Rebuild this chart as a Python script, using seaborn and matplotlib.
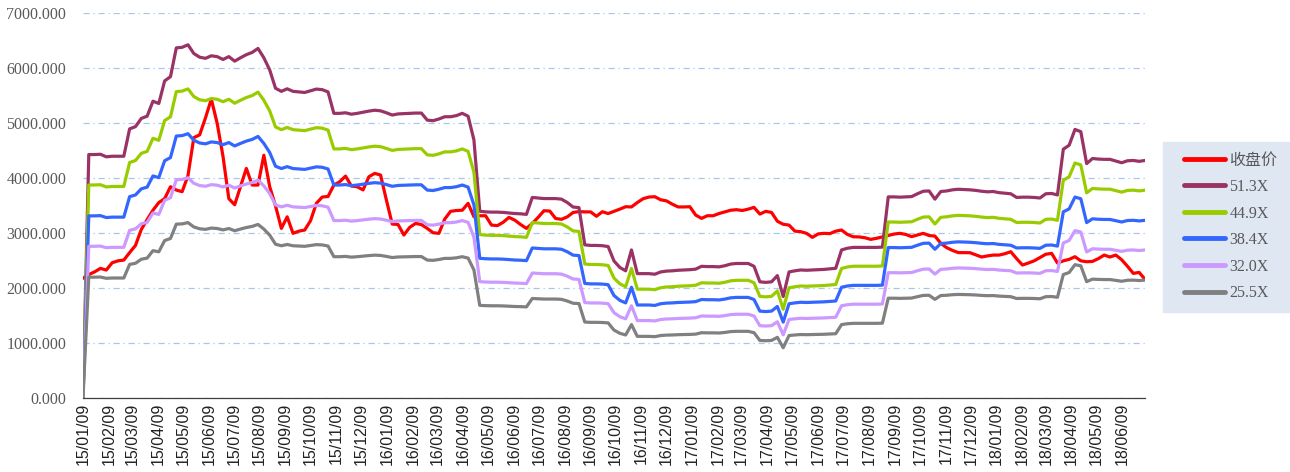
# PE band chart: weekly close vs. EPS x multiple bands, 2015-01 .. 2018-07.

import numpy as np
import pandas as pd
import matplotlib
matplotlib.use("Agg")
import matplotlib.pyplot as plt
import matplotlib.dates as mdates
from matplotlib.lines import Line2D
from matplotlib.legend_handler import HandlerLine2D
from matplotlib.ticker import FormatStrFormatter
import seaborn as sns

start_date = "2015-01-09"

# weekly close
close = [
    2182, 2250, 2300, 2363, 2333, 2465, 2500, 2514, 2650, 2780,
    3070, 3250, 3420, 3560, 3630, 3847, 3787, 3757, 4050, 4740,
    4790, 5100, 5440, 5000, 4400, 3630, 3520, 3850, 4180, 3878,
    3878, 4420, 3850, 3500, 3090, 3300, 3000, 3040, 3060, 3230,
    3545, 3660, 3670, 3878, 3938, 4041, 3860, 3847, 3790, 4029,
    4090, 4060, 3605, 3169, 3160, 2969, 3110, 3180, 3160, 3090,
    3011, 3000, 3260, 3400, 3415, 3420, 3545, 3302, 3320, 3320,
    3151, 3140, 3200, 3290, 3240, 3160, 3090, 3180, 3290, 3411,
    3405, 3270, 3255, 3300, 3380, 3395, 3390, 3390, 3310, 3393,
    3360, 3400, 3440, 3484, 3480, 3560, 3630, 3660, 3666, 3610,
    3590, 3530, 3480, 3480, 3484, 3333, 3272, 3320, 3320, 3360,
    3390, 3420, 3430, 3415, 3440, 3472, 3350, 3400, 3380, 3220,
    3165, 3150, 3040, 3030, 3000, 2927, 2990, 3000, 2995, 3040,
    3060, 2980, 2938, 2935, 2920, 2890, 2910, 2935, 2960, 2987,
    3000, 2980, 2940, 2970, 3000, 2960, 2950, 2820, 2740, 2690,
    2650, 2648, 2648, 2610, 2570, 2590, 2605, 2605, 2630, 2666,
    2540, 2424, 2460, 2500, 2560, 2620, 2636, 2460, 2500, 2527,
    2575, 2500, 2484, 2490, 2540, 2605, 2570, 2605, 2520, 2400,
    2272, 2290, 2164,
]

# weekly EPS used for the bands
eps = [
    0.0, 86.4, 86.4, 86.5, 85.6, 85.8, 85.8, 85.8, 95.5, 96.3,
    99.2, 100.0, 105.3, 104.5, 112.5, 114.0, 124.2, 124.4, 125.3, 122.2,
    120.9, 120.5, 121.4, 121.1, 120.1, 121.1, 119.5, 120.7, 121.8, 122.6,
    124.0, 120.7, 116.4, 109.9, 108.8, 109.7, 108.8, 108.6, 108.4, 109.0,
    109.6, 109.4, 108.6, 101.0, 101.0, 101.2, 100.7, 101.0, 101.4, 101.8,
    102.1, 101.9, 101.2, 100.4, 100.8, 100.9, 101.0, 101.1, 101.1, 98.6,
    98.4, 99.0, 99.8, 99.8, 100.2, 101.0, 100.0, 91.6, 66.3, 66.1,
    66.0, 66.0, 65.9, 65.7, 65.5, 65.4, 65.2, 71.2, 71.0, 70.8,
    70.8, 70.8, 70.6, 69.4, 67.8, 67.6, 54.4, 54.2, 54.2, 54.1,
    53.8, 48.7, 46.4, 45.2, 52.6, 44.2, 44.2, 44.2, 44.0, 44.8,
    45.1, 45.2, 45.4, 45.5, 45.6, 45.8, 46.8, 46.7, 46.7, 46.6,
    47.0, 47.6, 47.8, 47.8, 47.8, 46.8, 41.3, 41.1, 41.3, 43.5,
    36.1, 44.8, 45.2, 45.5, 45.4, 45.5, 45.6, 45.7, 45.9, 46.1,
    52.6, 53.2, 53.5, 53.5, 53.5, 53.5, 53.5, 53.6, 71.4, 71.4,
    71.3, 71.4, 71.5, 72.5, 73.4, 73.5, 70.6, 73.3, 73.5, 73.9,
    74.1, 74.0, 73.9, 73.7, 73.4, 73.2, 73.3, 72.9, 72.7, 72.5,
    71.2, 71.3, 71.3, 71.2, 71.0, 72.5, 72.6, 72.1, 88.3, 89.7,
    95.3, 94.5, 83.2, 85.0, 84.8, 84.7, 84.7, 84.1, 83.5, 84.2,
    84.3, 84.0, 84.3,
]

multiples = [51.3, 44.9, 38.4, 32.0, 25.5]
close_label = "收盘价"
band_labels = ["51.3X", "44.9X", "38.4X", "32.0X", "25.5X"]
colors = ["#FF0000", "#993366", "#99CC00", "#3366FF", "#CC99FF", "#808080"]

dates = pd.date_range(start_date, periods=len(close), freq="7D")
frames = [pd.DataFrame({"date": dates, "value": close, "series": close_label})]
for m, lab in zip(multiples, band_labels):
    frames.append(pd.DataFrame({"date": dates, "value": np.array(eps) * m, "series": lab}))
df = pd.concat(frames, ignore_index=True)

order = [close_label] + band_labels
palette = dict(zip(order, colors))

sns.set_theme(style="white")
plt.rcParams["font.family"] = ["Liberation Serif", "Noto Sans CJK SC", "DejaVu Sans"]

fig, ax = plt.subplots(figsize=(12.9, 4.72), dpi=100)
fig.subplots_adjust(left=0.0643, right=0.8876, bottom=0.156, top=0.9718)

sns.lineplot(data=df, x="date", y="value", hue="series", hue_order=order,
             palette=palette, estimator=None, sort=False, linewidth=2.3, ax=ax)

ax.set_xlim(dates[0], dates[-1])
ax.set_ylim(0, 7000)
ax.set_yticks(np.arange(0, 7001, 1000))
ax.yaxis.set_major_formatter(FormatStrFormatter("%.3f"))
ax.xaxis.set_major_locator(mdates.MonthLocator(bymonthday=9))
ax.xaxis.set_major_formatter(mdates.DateFormatter("%y/%m/%d"))

ax.yaxis.grid(True, color="#a9c6ea", linestyle=(0, (5, 3, 1, 3)), linewidth=0.9)
ax.xaxis.grid(False)
for side in ["left", "top", "right"]:
    ax.spines[side].set_visible(False)
ax.spines["bottom"].set_color("#404040")
ax.spines["bottom"].set_linewidth(0.9)

ax.tick_params(axis="y", length=0, pad=12, labelsize=11.5, labelcolor="#595959")
ax.tick_params(axis="x", direction="in", length=4, width=0.9, color="#404040",
               pad=3, labelsize=11.5, labelcolor="#222222", rotation=90)
for lbl in ax.get_xticklabels():
    lbl.set_family(["Liberation Sans", "DejaVu Sans"])
ax.set_xlabel("")
ax.set_ylabel("")

handles, labels = ax.get_legend_handles_labels()
leg = ax.legend(handles, labels, loc="upper left",
                bbox_to_anchor=(0.9016, 0.699, 0.11, 0.0), bbox_transform=fig.transFigure,
                mode="expand", frameon=True, fancybox=False,
                facecolor="#dfe7f2", edgecolor="#dfe7f2", framealpha=1.0,
                handlelength=3.2, handletextpad=0.3, labelspacing=0.66,
                borderpad=0.65, borderaxespad=0.0,
                handler_map={Line2D: HandlerLine2D(xpad=0.65)},
                prop={"family": ["Liberation Serif", "Noto Sans CJK SC"], "size": 11.5})
for t in leg.get_texts():
    t.set_color("#595959")
for h in leg.get_lines():
    h.set_linewidth(3.5)

fig.savefig("out.png", dpi=100)
plt.close(fig)
